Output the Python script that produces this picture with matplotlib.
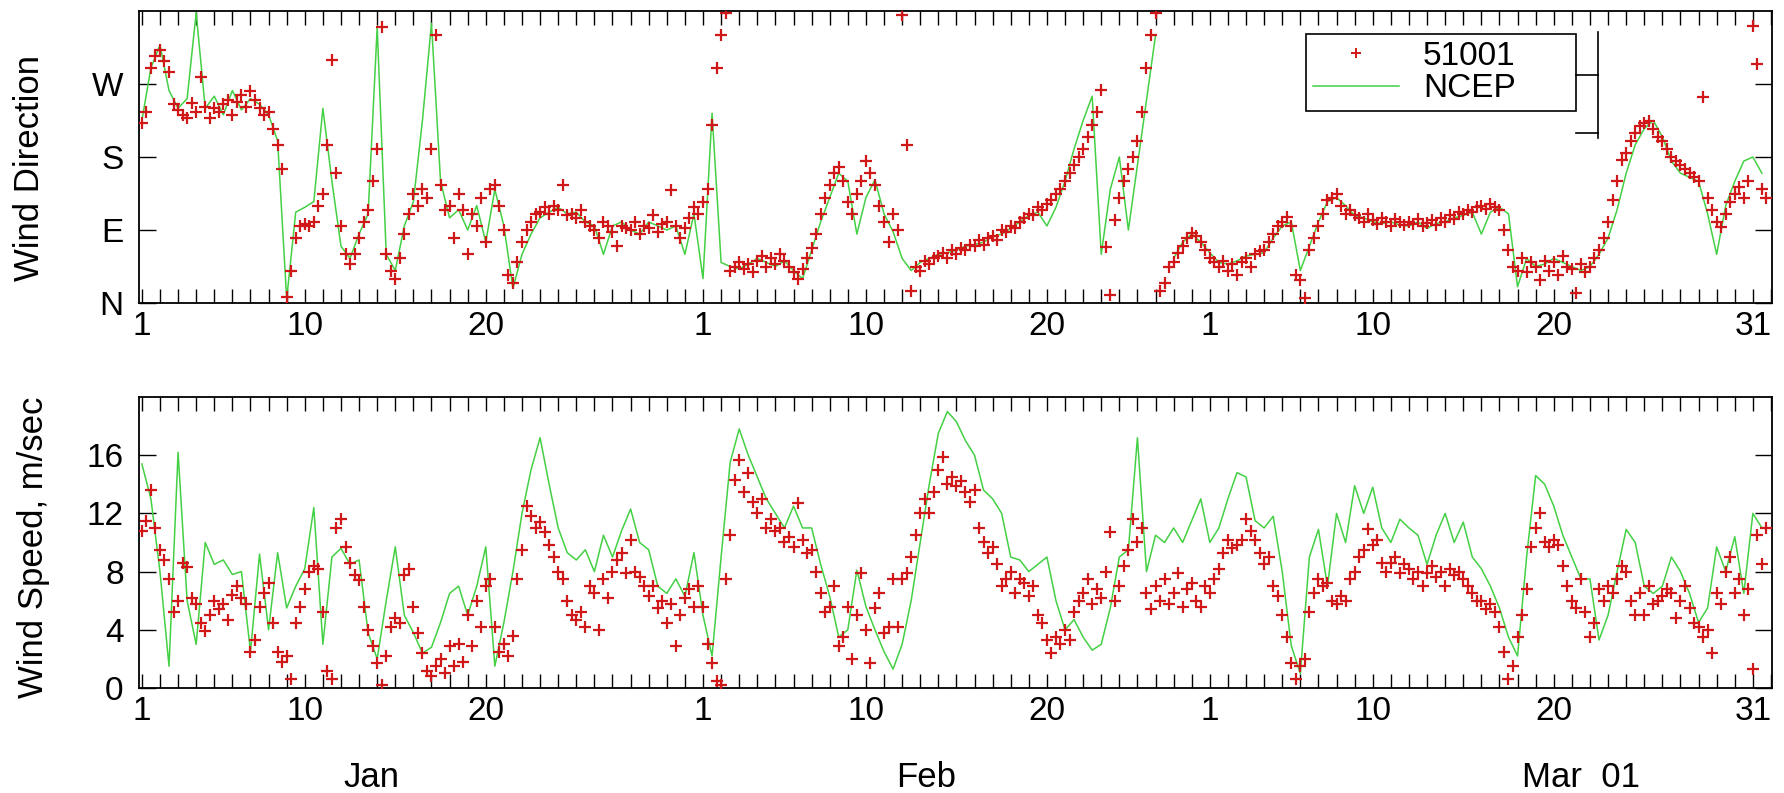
import numpy as np
import matplotlib
matplotlib.use('Agg')
import matplotlib.pyplot as plt
from matplotlib.lines import Line2D
import matplotlib.transforms as mtrans

plt.rcParams['font.family'] = ['Liberation Sans', 'DejaVu Sans']

# buoy 51001, every 6 hours from Jan 1 (deg, 0 = N)
buoy_dir = [
    222, 236, 290, 305, 312, 298, 285, 245,
    238, 232, 228, 246, 235, 279, 242, 228,
    240, 236, 245, 250, 232, 248, 256, 242,
    262, 250, 240, 232, 235, 215, 195, 165,
    8, 40, 80, 95, 97, 95, 100, 120,
    135, 195, 300, 160, 95, 60, 48, 60,
    80, 100, 115, 150, 190, 340, 60, 40,
    30, 55, 85, 110, 135, 120, 140, 130,
    190, 330, 145, 115, 120, 80, 135, 115,
    60, 110, 95, 130, 75, 140, 145, 120,
    90, 35, 25, 50, 75, 90, 100, 110,
    112, 118, 110, 120, 115, 145, 108, 110,
    105, 115, 100, 95, 90, 80, 100, 95,
    88, 70, 95, 92, 90, 100, 85, 95,
    92, 108, 88, 98, 100, 139, 95, 80,
    92, 105, 118, 110, 125, 140, 220, 290,
    330, 358, 40, 45, 50, 42, 48, 38,
    52, 58, 45, 55, 48, 60, 52, 44,
    38, 30, 42, 55, 68, 85, 110, 130,
    145, 160, 168, 150, 125, 110, 135, 150,
    175, 160, 145, 120, 100, 75, 110, 90,
    355, 195, 15, 45, 40, 52, 48, 55,
    58, 62, 55, 65, 60, 68, 65, 72,
    70, 78, 72, 80, 82, 78, 90, 88,
    95, 92, 100, 105, 110, 108, 118, 115,
    122, 127, 135, 140, 150, 160, 170, 180,
    190, 205, 220, 235, 263, 69, 10, 102,
    130, 150, 165, 180, 200, 236, 290, 330,
    357, 15, 25, 45, 50, 62, 70, 80,
    86, 82, 75, 65, 55, 50, 45, 52,
    40, 48, 35, 50, 55, 44, 60, 64,
    65, 75, 85, 95, 100, 106, 95, 35,
    28, 6, 65, 80, 95, 110, 127, 130,
    135, 120, 110, 115, 108, 105, 100, 110,
    102, 98, 105, 100, 95, 103, 100, 96,
    100, 97, 104, 95, 99, 102, 96, 105,
    100, 108, 104, 112, 110, 115, 112, 118,
    120, 116, 122, 118, 115, 90, 65, 45,
    40, 55, 38, 50, 44, 28, 52, 40,
    50, 35, 58, 45, 42, 12, 48, 38,
    45, 55, 65, 80, 100, 127, 150, 176,
    185, 200, 210, 218, 222, 225, 215, 205,
    200, 190, 180, 175, 170, 165, 160, 155,
    150, 254, 130, 115, 100, 94, 110, 125,
    135, 143, 130, 150, 341, 295, 140, 130,
]

# NCEP, every 12 hours from Jan 1 (deg)
ncep_dir = [
    225, 290, 318, 262, 240, 252, 358, 240,
    255, 232, 262, 238, 252, 245, 232, 200,
    5, 112, 118, 125, 240, 150, 70, 55,
    85, 110, 340, 60, 40, 95, 125, 225,
    345, 150, 105, 115, 90, 120, 75, 140,
    95, 18, 60, 85, 105, 112, 118, 110,
    112, 100, 95, 60, 95, 100, 90, 85,
    100, 95, 90, 95, 60, 110, 30, 234,
    50, 45, 42, 48, 55, 50, 45, 52,
    40, 30, 65, 100, 130, 160, 150, 85,
    130, 152, 110, 88, 55, 40, 50, 55,
    60, 62, 65, 70, 72, 75, 82, 85,
    92, 100, 108, 112, 95, 118, 150, 190,
    225, 255, 60, 140, 180, 90, 170, 250,
    330, np.nan, 55, 75, 85, 75, 62, 50,
    48, 52, 58, 60, 62, 80, 95, 100,
    40, 70, 100, 125, 130, 120, 108, 105,
    100, 98, 100, 96, 95, 100, 92, 98,
    100, 105, 108, 112, 85, 112, 118, 110,
    20, 55, 45, 48, 55, 50, 45, 40,
    45, 60, 80, 115, 160, 195, 215, 225,
    205, 175, 160, 155, 150, 110, 60, 120,
    150, 175, 180, 160,
]

# wind speed, m/sec
buoy_spd = [
    10.8, 11.5, 13.6, 11.0, 9.5, 8.8, 7.5, 5.2,
    6.0, 8.6, 8.3, 6.2, 5.8, 4.5, 3.9, 5.0,
    6.0, 5.4, 5.8, 4.7, 6.4, 7.0, 6.2, 5.8,
    2.5, 3.3, 5.6, 6.5, 7.2, 4.5, 2.5, 1.8,
    2.2, 0.6, 4.5, 5.6, 6.8, 8.0, 8.4, 8.2,
    5.2, 1.2, 0.6, 11.0, 11.6, 9.7, 8.6, 7.8,
    7.4, 5.6, 4.0, 2.9, 1.7, 0.2, 2.2, 4.2,
    4.8, 4.5, 7.8, 8.2, 5.6, 3.8, 2.4, 1.2,
    0.8, 1.5, 2.0, 1.0, 2.9, 1.5, 3.0, 1.8,
    5.0, 2.9, 6.0, 4.2, 7.0, 7.5, 4.2, 2.5,
    3.0, 2.2, 3.6, 7.5, 9.5, 12.5, 11.8, 11.0,
    11.4, 10.7, 9.8, 9.0, 8.0, 7.5, 6.0, 5.0,
    4.7, 5.2, 4.2, 7.0, 6.5, 4.0, 7.5, 6.2,
    8.0, 8.8, 9.3, 7.9, 10.2, 8.0, 7.6, 7.0,
    6.3, 7.0, 5.5, 6.0, 4.5, 5.8, 2.9, 5.0,
    6.2, 6.8, 5.6, 7.0, 5.6, 3.0, 1.7, 0.5,
    0.2, 7.5, 10.5, 14.3, 15.7, 13.5, 14.8, 12.8,
    12.0, 13.0, 11.0, 11.6, 10.8, 11.0, 10.0, 10.4,
    9.7, 12.7, 10.2, 9.3, 9.5, 8.0, 6.5, 5.2,
    5.6, 7.0, 2.9, 3.5, 5.6, 2.0, 5.0, 7.9,
    4.0, 1.7, 5.5, 6.5, 3.8, 4.2, 7.5, 4.2,
    7.5, 7.9, 9.0, 10.5, 12.0, 13.0, 12.0, 13.5,
    15.0, 15.9, 14.0, 14.5, 13.9, 14.2, 13.5, 12.8,
    13.6, 11.0, 10.0, 9.3, 9.7, 8.5, 7.0, 7.5,
    8.0, 6.5, 7.5, 7.2, 6.3, 7.0, 5.0, 4.5,
    3.3, 2.4, 3.5, 3.0, 4.0, 3.3, 5.2, 6.0,
    6.5, 7.5, 5.8, 6.8, 6.2, 8.0, 10.7, 6.0,
    7.0, 8.4, 9.5, 11.6, 10.0, 11.0, 6.5, 5.4,
    7.0, 6.0, 7.5, 5.8, 6.5, 7.9, 5.6, 6.8,
    7.2, 6.0, 5.6, 7.0, 6.5, 7.5, 8.2, 9.3,
    10.2, 9.6, 9.8, 10.2, 11.6, 10.8, 10.2, 9.3,
    8.5, 9.0, 7.0, 6.3, 5.0, 3.5, 1.7, 0.6,
    1.5, 2.0, 5.2, 6.5, 7.5, 7.0, 7.2, 6.0,
    5.8, 6.3, 6.0, 7.5, 8.0, 9.0, 9.5, 10.9,
    9.8, 10.2, 8.6, 8.0, 8.6, 9.0, 7.9, 8.5,
    8.2, 7.5, 8.0, 7.0, 7.9, 8.4, 7.6, 8.0,
    7.0, 8.2, 7.8, 8.0, 7.5, 7.0, 6.5, 6.0,
    6.0, 5.4, 5.8, 5.2, 4.2, 2.5, 0.6, 1.5,
    3.5, 5.0, 6.8, 9.7, 11.0, 12.0, 10.0, 9.7,
    10.2, 9.8, 8.4, 7.0, 6.0, 5.5, 7.5, 5.2,
    3.5, 4.5, 6.8, 6.0, 7.0, 6.5, 7.5, 8.4,
    8.0, 6.0, 5.0, 6.5, 5.0, 7.0, 5.8, 6.0,
    6.3, 6.8, 6.5, 4.8, 6.0, 7.0, 5.5, 4.5,
    4.2, 3.5, 4.0, 2.4, 6.5, 5.8, 8.0, 9.0,
    6.5, 7.5, 5.0, 6.8, 1.3, 10.5, 8.5, 11.0,
]

ncep_spd = [
    15.4, 13.0, 8.0, 1.5, 16.2, 6.0, 3.0, 10.0,
    8.5, 8.8, 7.8, 8.0, 2.5, 9.2, 4.0, 9.3,
    5.5, 7.0, 8.2, 12.4, 3.0, 9.0, 9.6, 8.5,
    8.8, 3.8, 2.0, 6.0, 9.7, 5.0, 3.8, 2.4,
    2.8, 4.5, 6.5, 7.0, 5.0, 7.0, 9.7, 1.5,
    4.5, 8.0, 12.0, 15.0, 17.2, 14.0, 11.0, 9.3,
    8.8, 9.5, 8.0, 10.5, 9.0, 10.8, 12.3, 10.0,
    9.5, 7.0, 6.5, 7.5, 6.3, 9.3, 5.0, 2.2,
    9.0, 15.5, 17.8, 16.0, 14.5, 13.0, 12.0, 11.0,
    12.5, 11.0, 11.0, 8.5, 6.3, 3.5, 4.0, 8.1,
    5.6, 4.0, 2.5, 1.3, 3.0, 6.0, 10.0, 14.0,
    17.5, 19.0, 18.3, 17.0, 16.0, 13.6, 13.0, 12.0,
    9.0, 8.8, 8.0, 8.5, 9.0, 6.0, 4.0, 4.7,
    3.5, 2.6, 3.0, 5.5, 9.0, 9.5, 17.2, 8.0,
    10.5, 10.0, 11.0, 10.0, 11.5, 13.0, 10.0, 11.0,
    13.0, 14.8, 14.5, 11.5, 11.0, 11.8, 8.0, 2.9,
    1.0, 9.0, 10.9, 7.0, 12.0, 10.0, 13.9, 12.0,
    13.8, 11.0, 10.0, 11.6, 11.0, 10.5, 8.5, 10.5,
    12.0, 10.0, 11.4, 9.0, 8.2, 7.0, 5.5, 3.5,
    2.2, 9.0, 14.6, 14.0, 12.5, 10.5, 9.0, 7.5,
    7.5, 3.3, 5.0, 8.0, 10.9, 10.0, 7.0, 6.5,
    7.0, 9.0, 8.0, 6.5, 4.5, 5.5, 9.7, 8.0,
    10.4, 6.5, 12.0, 11.0,
]

label_days = [1, 10, 20, 32, 41, 51, 60, 69, 79, 90]
label_text = ['1', '10', '20', '1', '10', '20', '1', '10', '20', '31']

# day of year, Jan 1 = 1
day_b = 1 + 0.25 * np.arange(len(buoy_dir))
day_n = 1 + 0.5 * np.arange(len(ncep_dir))

RED = '#d01818'
GREEN = '#44d044'

fig = plt.figure(figsize=(17.84, 7.93), dpi=100)
ax1 = fig.add_axes([0.0779, 0.6179, 0.9154, 0.3682])
ax2 = fig.add_axes([0.0779, 0.1324, 0.9154, 0.367])

xt = [''] * 91
for d, s in zip(label_days, label_text):
    xt[d - 1] = s

for ax, b, n in [(ax1, buoy_dir, ncep_dir), (ax2, buoy_spd, ncep_spd)]:
    ax.plot(day_n, n, color=GREEN, lw=1.1, zorder=2)
    ax.plot(day_b, b, ls='none', marker='+', ms=8, mew=1.6, color=RED, zorder=3)
    ax.set_xlim(0.84, 91.06)
    ax.set_xticks(range(1, 92))
    ax.set_xticklabels(xt)
    ax.tick_params(axis='x', direction='in', length=10, width=1, top=True,
                   labelsize=24, pad=6)
    ax.tick_params(axis='y', direction='in', length=12, width=1, right=True,
                   labelsize=24, pad=11)
    for sp in ax.spines.values():
        sp.set_linewidth(1.3)

ax1.set_ylim(0, 360)
ax1.set_yticks([0, 90, 180, 270])
ax1.set_yticklabels(['N', 'E', 'S', 'W'])
ax2.set_ylim(0, 20)
ax2.set_yticks([0, 4, 8, 12, 16])

fig.text(0.0168, 0.788, 'Wind Direction', rotation=90, ha='center', va='center', fontsize=25)
fig.text(0.019, 0.310, 'Wind Speed, m/sec', rotation=90, ha='center', va='center', fontsize=25)

# month names under the lower panel
tr = mtrans.blended_transform_factory(ax2.transData, ax2.transAxes)
ax2.text(13.7, -0.306, 'Jan', transform=tr, ha='center', va='center', fontsize=25)
ax2.text(44.3, -0.306, 'Feb', transform=tr, ha='center', va='center', fontsize=25)
ax2.text(80.5, -0.306, 'Mar  01', transform=tr, ha='center', va='center', fontsize=25)

handles = [Line2D([], [], ls='none', marker='+', color=RED, ms=7, mew=1.4),
           Line2D([], [], color=GREEN, lw=1.1)]
leg = ax1.legend(handles, ['51001', 'NCEP'], loc='upper left',
                 bbox_to_anchor=(0.7147, 0.0, 0.1653, 0.9212), mode='expand',
                 fontsize=24, fancybox=False, framealpha=1, edgecolor='black',
                 borderpad=0.2, labelspacing=0.05, handlelength=2.6,
                 handletextpad=0.7, borderaxespad=0)
leg.get_frame().set_linewidth(1.2)
leg.set_zorder(5)

# stray bracket next to the legend box
ax1.plot([0.8934, 0.8934], [0.565, 0.928], color='black', lw=1.2, transform=ax1.transAxes, clip_on=False, zorder=6)
ax1.plot([0.880, 0.8934], [0.781, 0.781], color='black', lw=1.2, transform=ax1.transAxes, clip_on=False, zorder=6)
ax1.plot([0.880, 0.8934], [0.582, 0.582], color='black', lw=1.2, transform=ax1.transAxes, clip_on=False, zorder=6)

fig.savefig('out.png', dpi=100)
